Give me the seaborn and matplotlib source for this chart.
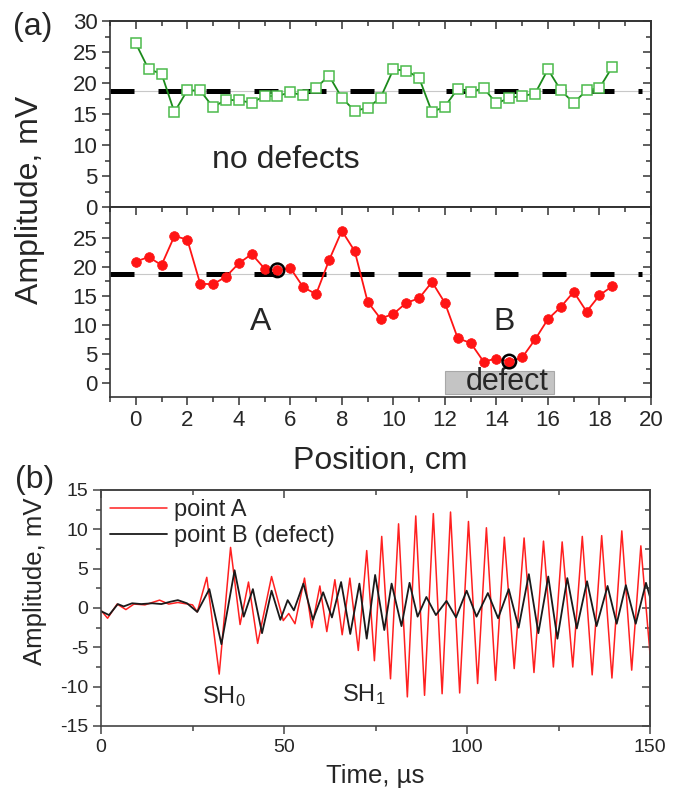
import matplotlib
matplotlib.use("Agg")
import matplotlib.pyplot as plt
from matplotlib.ticker import MultipleLocator, FixedLocator
from matplotlib.patches import Rectangle
import seaborn as sns

# ---- panel (a): amplitude along the plate ----
positions = [0.0, 0.5, 1.0, 1.5, 2.0, 2.5, 3.0, 3.5, 4.0, 4.5, 5.0, 5.5, 6.0, 6.5,
             7.0, 7.5, 8.0, 8.5, 9.0, 9.5, 10.0, 10.5, 11.0, 11.5, 12.0, 12.5, 13.0,
             13.5, 14.0, 14.5, 15.0, 15.5, 16.0, 16.5, 17.0, 17.5, 18.0, 18.5]
no_defect_amp = [26.4, 22.2, 21.5, 15.3, 18.8, 18.8, 16.1, 17.3, 17.2, 16.8, 17.9,
                 17.9, 18.5, 18.0, 19.2, 21.2, 17.6, 15.5, 16.0, 17.6, 22.2, 22.0,
                 20.8, 15.3, 16.2, 19.1, 18.5, 19.2, 16.7, 17.6, 17.9, 18.3, 22.2,
                 18.8, 16.8, 18.8, 19.2, 22.6]
defect_amp = [20.9, 21.7, 20.3, 25.3, 24.7, 17.1, 17.0, 18.3, 20.6, 22.2, 19.7,
              19.4, 19.8, 16.5, 15.3, 21.1, 26.2, 22.7, 14.0, 11.1, 11.9, 13.8,
              14.6, 17.4, 13.8, 7.7, 6.9, 3.7, 4.2, 3.7, 4.4, 7.5, 11.0, 13.1,
              15.7, 12.3, 15.1, 16.7]
threshold = 18.7
marked_pos = [5.5, 14.5]          # points A and B
defect_zone = (12.0, 16.25)

# ---- panel (b): waveforms (extrema) ----
time_a = [0.0, 1.8, 4.4, 6.8, 9.0, 12.0, 16.0, 18.5, 21.0, 25.0, 26.3, 28.9, 32.3,
          35.4, 38.0, 40.3, 42.8, 46.6, 49.8, 51.3, 53.0, 55.6, 57.6, 59.8, 61.7,
          63.9, 65.9, 68.0, 70.3, 72.6, 74.7, 76.7, 79.1, 81.3, 83.7, 86.0, 88.4,
          90.8, 93.2, 95.5, 98.0, 100.4, 102.9, 105.3, 107.8, 110.2, 112.9, 115.6,
          118.3, 120.9, 123.6, 126.0, 128.9, 131.5, 134.2, 136.8, 139.6, 142.3,
          145.0, 147.5, 150.0]
amp_a = [-0.3, -1.3, 0.5, -0.2, 0.5, 0.4, 1.0, 0.5, 0.7, 0.4, -0.5, 3.9, -8.4,
         7.7, -2.1, 3.3, -4.5, 4.0, -1.6, -0.7, -2.0, 3.8, -2.5, 2.8, -3.0,
         3.6, -3.4, 3.8, -5.4, 7.3, -6.7, 9.1, -9.0, 10.7, -11.3, 11.7, -11.1,
         12.0, -10.9, 12.2, -10.8, 11.0, -9.6, 10.2, -9.2, 9.0, -7.7, 8.9,
         -8.2, 8.5, -7.5, 8.4, -7.5, 9.1, -8.5, 9.2, -8.9, 9.8,
         -7.9, 7.9, -5.8]
time_b = [0.0, 2.2, 4.6, 6.2, 8.5, 11.0, 14.0, 16.5, 19.0, 21.0, 23.5, 26.3, 29.6,
          32.9, 36.5, 39.0, 41.5, 44.0, 46.6, 49.0, 51.0, 52.7, 55.3, 57.9, 60.7,
          63.1, 65.6, 68.1, 70.6, 72.6, 74.9, 77.4, 79.4, 82.1, 84.3, 86.5, 88.9,
          91.5, 94.4, 97.0, 99.9, 102.6, 105.7, 108.5, 111.4, 114.1, 116.9, 119.5,
          122.2, 124.7, 127.4, 130.0, 132.8, 135.4, 138.4, 140.9, 143.4, 146.1,
          148.9, 150.0]
amp_b = [-0.4, -0.9, 0.5, 0.2, 0.6, 0.5, 0.6, 0.5, 0.8, 1.0, 0.6, -0.5, 2.4,
         -4.6, 4.8, -1.1, 2.4, -3.2, 2.2, -1.5, 1.0, -0.3, 3.1, -1.5, 2.0,
         -1.2, 3.3, -3.3, 3.1, -3.9, 4.2, -2.8, 3.1, -2.3, 3.2, -1.1, 1.4,
         -0.9, 0.9, -1.2, 2.2, -1.1, 1.9, -1.3, 2.4, -2.5, 4.3, -3.2,
         4.0, -3.9, 3.8, -2.6, 3.4, -2.3, 2.8, -2.0, 2.9, -2.0,
         3.2, 1.4]

sns.set_style("ticks")
plt.rcParams["font.family"] = ["Liberation Sans", "DejaVu Sans"]
plt.rcParams["mathtext.default"] = "regular"
plt.rcParams["axes.unicode_minus"] = False

W, H = 680, 794
fig = plt.figure(figsize=(W / 100, H / 100), dpi=100)


def px_rect(l, t, r, b):
    return [l / W, 1 - b / H, (r - l) / W, (b - t) / H]


def frame(ax, xmaj, xmin, ymaj, ymin, size, col="#333333"):
    ax.xaxis.set_major_locator(xmaj)
    ax.xaxis.set_minor_locator(xmin)
    ax.yaxis.set_major_locator(ymaj)
    ax.yaxis.set_minor_locator(ymin)
    ax.tick_params(which="major", direction="out", length=6, width=1.1,
                   labelsize=size, color=col, pad=3)
    ax.tick_params(which="minor", direction="out", length=3.5, width=1.1, color=col)
    for s in ax.spines.values():
        s.set_linewidth(1.2)
        s.set_color(col)
    top = ax.secondary_xaxis("top")
    top.xaxis.set_major_locator(xmaj)
    top.xaxis.set_minor_locator(xmin)
    top.tick_params(which="major", direction="in", length=6, width=1.1,
                    labeltop=False, color=col)
    top.tick_params(which="minor", direction="in", length=3.5, width=1.1, color=col)
    right = ax.secondary_yaxis("right")
    right.yaxis.set_major_locator(ymaj)
    right.yaxis.set_minor_locator(ymin)
    right.tick_params(which="major", direction="in", length=6, width=1.1,
                      labelright=False, color=col)
    right.tick_params(which="minor", direction="in", length=3.5, width=1.1, color=col)
    for sec in (top, right):
        for s in sec.spines.values():
            s.set_linewidth(1.2)
            s.set_color(col)


# top: no defects
ax1 = fig.add_axes(px_rect(110, 21, 651, 207))
ax1.axhline(threshold, color="#c8c8c8", lw=0.8, zorder=1)
ax1.hlines(threshold, -1, 19.65, color="black", lw=3.6,
           linestyles=(0, (4.8, 4.8)), zorder=1.5)
sns.lineplot(x=positions, y=no_defect_amp, ax=ax1, color="#1b8a1b", lw=1.3,
             marker="s", markersize=6.5, markerfacecolor="white",
             markeredgecolor="#4cbb4c", markeredgewidth=1.1, zorder=3)
ax1.set_xlim(-1, 20)
ax1.set_ylim(0, 30)
frame(ax1, MultipleLocator(2), MultipleLocator(1), MultipleLocator(5),
      MultipleLocator(2.5), 16)
ax1.tick_params(labelbottom=False)
ax1.text(5.83, 7.5, "no defects", fontsize=23, ha="center", va="center")

# bottom: with defect
ax2 = fig.add_axes(px_rect(110, 207, 651, 397))
ax2.axhline(threshold, color="#c8c8c8", lw=0.8, zorder=1)
ax2.hlines(threshold, -1, 19.65, color="black", lw=3.6,
           linestyles=(0, (4.8, 4.8)), zorder=1.5)
ax2.add_patch(Rectangle((defect_zone[0], -1.9), defect_zone[1] - defect_zone[0], 4.0,
                        facecolor="#c4c4c4", edgecolor="#a8a8a8", lw=0.8, zorder=1))
sns.lineplot(x=positions, y=defect_amp, ax=ax2, color="#ff1414", lw=1.3,
             marker="o", markersize=7, markeredgecolor="#ff1414",
             markeredgewidth=0.5, zorder=3)
marked_amp = [defect_amp[positions.index(p)] for p in marked_pos]
sns.scatterplot(x=marked_pos, y=marked_amp, ax=ax2, s=95, facecolor="none",
                edgecolor="black", linewidth=1.8, zorder=4)
ax2.set_xlim(-1, 20)
ax2.set_ylim(-2.4, 30.3)
frame(ax2, MultipleLocator(2), MultipleLocator(1), FixedLocator([0, 5, 10, 15, 20, 25]),
      FixedLocator([2.5, 7.5, 12.5, 17.5, 22.5, 27.5]), 16)
ax2.text(4.83, 10.5, "A", fontsize=23, ha="center", va="center")
ax2.text(14.3, 10.5, "B", fontsize=23, ha="center", va="center")
ax2.text(14.4, 0.1, "defect", fontsize=22, ha="center", va="center", zorder=2)
ax2.set_xlabel("Position, cm", fontsize=23, labelpad=11)

fig.text(30 / W, 1 - 200 / H, "Amplitude, mV", rotation=90, fontsize=23,
         ha="center", va="center")
fig.text(33 / W, 1 - 27 / H, "(a)", fontsize=23, ha="center", va="center")

# panel (b)
ax3 = fig.add_axes(px_rect(101, 490, 650, 726))
sns.lineplot(x=time_a, y=amp_a, ax=ax3, color="#ff2020", lw=1.1, label="point A")
sns.lineplot(x=time_b, y=amp_b, ax=ax3, color="#1a1a1a", lw=1.3,
             label="point B (defect)")
ax3.set_xlim(0, 150)
ax3.set_ylim(-15, 15)
frame(ax3, MultipleLocator(50), MultipleLocator(25), MultipleLocator(5),
      MultipleLocator(2.5), 14, col="#444444")
ax3.legend(loc="upper left", frameon=False, fontsize=17, handlelength=2.4,
           handletextpad=0.3, labelspacing=0.15, borderaxespad=0.2,
           borderpad=0.2)
ax3.text(33.6, -11.3, "SH$_0$", fontsize=17, ha="center", va="center")
ax3.text(71.9, -11.0, "SH$_1$", fontsize=17, ha="center", va="center")
ax3.set_xlabel("Time, µs", fontsize=18.5, labelpad=6)
fig.text(35 / W, 1 - 581 / H, "Amplitude, mV", rotation=90, fontsize=18.5,
         ha="center", va="center")
fig.text(35 / W, 1 - 480 / H, "(b)", fontsize=23, ha="center", va="center")

fig.savefig("out.png", dpi=100)
